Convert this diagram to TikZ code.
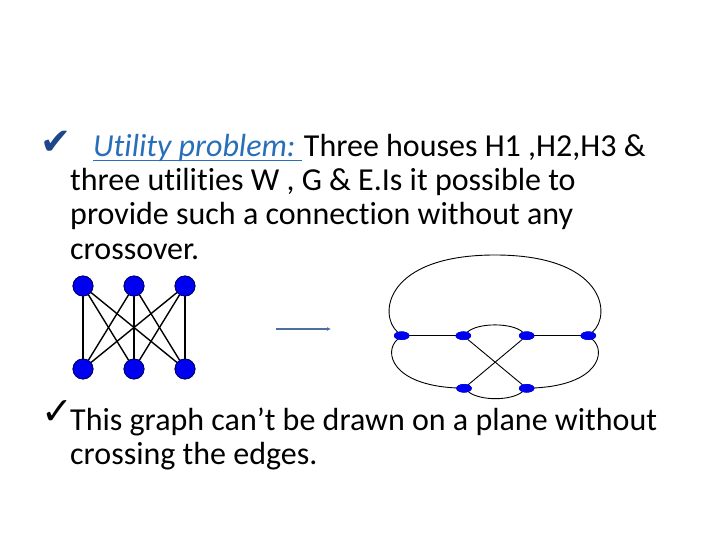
\documentclass[tikz,border=0pt]{standalone}
\usepackage{fontspec}
\setmainfont[RawFeature=-liga]{Carlito}
\newfontfamily\symfont{DejaVu Sans}
\usetikzlibrary{arrows.meta,shapes.geometric}
\definecolor{ublue}{RGB}{40,110,185}
\definecolor{checkblue}{RGB}{30,70,140}
\definecolor{nodeblue}{RGB}{0,0,240}
\definecolor{nodeline}{RGB}{0,0,110}
\definecolor{arrowblue}{RGB}{79,110,160}
\tikzset{
  txt/.style={anchor=base west, inner sep=0pt, font=\fontsize{32}{34}\selectfont},
  chk/.style={anchor=center, inner sep=0pt, font=\symfont\fontsize{38}{40}\selectfont},
  bigdot/.style={circle, fill=nodeblue, draw=nodeline, line width=0.8pt, minimum size=20pt, inner sep=0pt},
  smalldot/.style={ellipse, fill=nodeblue, draw=nodeblue, minimum width=15pt, minimum height=8pt, inner sep=0pt},
  kedge/.style={line width=1.4pt, black},
  pedge/.style={line width=0.9pt, black}
}
\begin{document}
\begin{tikzpicture}[x=1pt,y=-1pt]
\useasboundingbox (0,0) rectangle (720,540);
% top text
\node[chk, text=checkblue, font=\symfont\fontsize{37}{40}\selectfont] (c1) at (56,142.5) {✔};
\node[txt, text=ublue] (u) at (93,157) {\itshape Utility problem:};
\node[txt] (t1) at ([xshift=8pt]u.base east) {Three houses H1 ,H2,H3 \&};
\draw[ublue, line width=1.5pt] ([yshift=-3.5pt]u.base west) -- ([yshift=-3.5pt,xshift=-2pt]t1.base west);
\node[txt] (t2) at (70,191) {three utilities W , G \& E.Is it possible to};
\node[txt] (t3) at (70,225) {provide such a connection without any};
\node[txt] (t4) at (70,259) {crossover.};
% bottom text
\node[chk, text=black] (c2) at (57,413) {✓};
\node[txt] (b1t) at (70,430) {This graph can’t be drawn on a plane without};
\node[txt] (b2t) at (70,464) {crossing the edges.};
% K33
\node[bigdot] (h1) at (83,286) {};
\node[bigdot] (h2) at (134,286) {};
\node[bigdot] (h3) at (185,286) {};
\node[bigdot] (u1) at (83,369) {};
\node[bigdot] (u2) at (134,369) {};
\node[bigdot] (u3) at (185,369) {};
\foreach \h in {h1,h2,h3}{
  \foreach \u in {u1,u2,u3}{
    \draw[kedge] (\h) -- (\u);
  }
}
\foreach \h in {h1,h2,h3}{\node[bigdot] at (\h) {};}
\foreach \u in {u1,u2,u3}{\node[bigdot] at (\u) {};}
% arrow
\coordinate (as) at (276,329);
\coordinate (ae) at (331,329);
\draw[arrowblue, line width=1.5pt, -{Latex[length=4pt,width=4pt]}] (as) -- (ae);
% planar-ish drawing
\node[smalldot] (a1) at (401.7,335.7) {};
\node[smalldot] (a2) at (463.3,335.7) {};
\node[smalldot] (a3) at (526.7,335.7) {};
\node[smalldot] (a4) at (588.3,335.7) {};
\node[smalldot] (b1) at (464,388.3) {};
\node[smalldot] (b2) at (526.7,388.3) {};
\coordinate (top) at (495,255);
\draw[pedge] (a1) .. controls (378,315) and (385,255) .. (top) .. controls (605,255) and (612,315) .. (a4);
\draw[pedge] (a1) -- (a2);
\draw[pedge] (a3) -- (a4);
\draw[pedge] (a2) .. controls (478,322.5) and (512,322.5) .. (a3);
\draw[pedge] (a2) -- (b2);
\draw[pedge] (a3) -- (b1);
\draw[pedge] (a1) .. controls (383,352) and (392,385) .. (b1);
\draw[pedge] (a4) .. controls (607,352) and (598,385) .. (b2);
\draw[pedge] (b1) .. controls (480,401) and (511,401) .. (b2);
\foreach \n in {a1,a2,a3,a4,b1,b2}{\node[smalldot] at (\n) {};}
\end{tikzpicture}
\end{document}
